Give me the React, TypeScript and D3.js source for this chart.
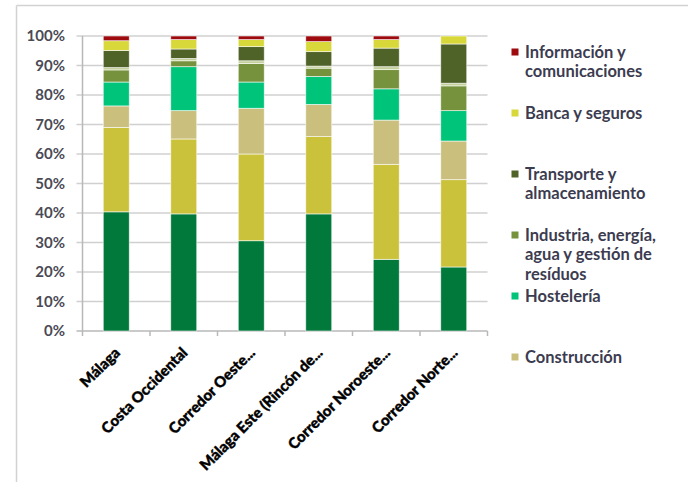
import React from "react";
import * as d3 from "d3";

const categories = [
  "Málaga",
  "Costa Occidental",
  "Corredor Oeste...",
  "Málaga Este (Rincón de...",
  "Corredor Noroeste...",
  "Corredor Norte...",
];

// series stacked from bottom to top
const seriesKeys = [
  "Serie A",
  "Serie B",
  "Construcción",
  "Hostelería",
  "Industria, energía, agua y gestión de resíduos",
  "Otros",
  "Transporte y almacenamiento",
  "Banca y seguros",
  "Información y comunicaciones",
];

const serieA = [40.4, 39.7, 30.6, 39.7, 24.3, 21.7];
const serieB = [28.6, 25.4, 29.4, 26.2, 32.2, 29.6];
const construccion = [7.3, 9.6, 15.5, 10.9, 15.0, 13.1];
const hosteleria = [8.1, 14.9, 8.9, 9.5, 10.6, 10.3];
const industria = [4.1, 2.0, 6.3, 2.8, 6.5, 8.4];
const otros = [0.8, 0.8, 0.9, 0.7, 1.0, 0.9];
const transporte = [5.8, 3.2, 4.8, 4.9, 6.3, 13.3];
const banca = [3.3, 3.2, 2.4, 3.4, 2.9, 2.7];
const informacion = [1.6, 1.2, 1.2, 1.9, 1.2, 0.0];

const seriesValues = [
  serieA,
  serieB,
  construccion,
  hosteleria,
  industria,
  otros,
  transporte,
  banca,
  informacion,
];

const colors = [
  "#00793b",
  "#cbc23c",
  "#cabf7d",
  "#00c47a",
  "#76923c",
  "#c4d09a",
  "#4f6228",
  "#d8d83a",
  "#9e0b0f",
];

const yTicks = [0, 0.1, 0.2, 0.3, 0.4, 0.5, 0.6, 0.7, 0.8, 0.9, 1];

// legend as shown (top to bottom)
const legendItems = [
  { key: "Información y comunicaciones", lines: ["Información y", "comunicaciones"] },
  { key: "Banca y seguros", lines: ["Banca y seguros"] },
  { key: "Transporte y almacenamiento", lines: ["Transporte y", "almacenamiento"] },
  { key: "Industria, energía, agua y gestión de resíduos", lines: ["Industria, energía,", "agua y gestión de", "resíduos"] },
  { key: "Hostelería", lines: ["Hostelería"] },
  { key: "Construcción", lines: ["Construcción"] },
];

const W = 688;
const H = 482;
const plot = { left: 82.5, right: 487.5, top: 36, bottom: 331 };
const FONT = "Lato, 'Open Sans', sans-serif";

export default function App() {
  const rows = categories.map((c, i) => {
    const r: any = { cat: c };
    seriesKeys.forEach((k, j) => (r[k] = seriesValues[j][i]));
    return r;
  });
  const stacked = d3.stack<any>().keys(seriesKeys).offset(d3.stackOffsetExpand)(rows);

  const x = d3
    .scaleBand<string>()
    .domain(categories)
    .range([plot.left, plot.right])
    .paddingInner(0.615)
    .paddingOuter(0.3075);
  const y = d3.scaleLinear().domain([0, 1]).range([plot.bottom, plot.top]);
  const step = x.step();
  const fmt = d3.format(".0%");
  const colorOf = (k: string) => colors[seriesKeys.indexOf(k)];

  return (
    <svg
      width={W}
      height={H}
      style={{ position: "absolute", left: 0, top: 0, background: "#fff" }}
      fontFamily={FONT}
    >
      {/* frame */}
      <line x1={16.5} y1={5.5} x2={W} y2={5.5} stroke="#d2d2d2" strokeWidth={1.5} />
      <line x1={16.5} y1={5.5} x2={16.5} y2={H} stroke="#d2d2d2" strokeWidth={1.5} />

      {/* gridlines + y ticks */}
      {yTicks.map((t) => (
        <g key={t}>
          <line
            x1={plot.left - 6}
            x2={plot.right}
            y1={y(t)}
            y2={y(t)}
            stroke={t === 0 ? "#b8b8b8" : "#d0d0d0"}
            strokeWidth={1.5}
          />
          <text
            x={65}
            y={y(t)}
            dy="0.36em"
            textAnchor="end"
            fontSize={15}
            fontWeight={700}
            fill="#4a4a55"
          >
            {fmt(t)}
          </text>
        </g>
      ))}
      {/* y axis line */}
      <line x1={plot.left} x2={plot.left} y1={plot.top} y2={plot.bottom} stroke="#b8b8b8" strokeWidth={1.5} />
      {/* x category ticks */}
      {d3.range(categories.length + 1).map((i) => (
        <line
          key={i}
          x1={plot.left + i * step}
          x2={plot.left + i * step}
          y1={plot.bottom}
          y2={plot.bottom + 5}
          stroke="#b8b8b8"
          strokeWidth={1.5}
        />
      ))}

      {/* bars */}
      {stacked.map((s) => (
        <g key={s.key} fill={colorOf(s.key)}>
          {s.map((d, i) =>
            d[1] - d[0] > 0 ? (
              <rect
                key={i}
                x={x(categories[i])!}
                width={x.bandwidth()}
                y={y(d[1])}
                height={y(d[0]) - y(d[1])}
                stroke="#ffffff"
                strokeOpacity={0.7}
                strokeWidth={0.8}
              />
            ) : null
          )}
        </g>
      ))}

      {/* x labels */}
      {categories.map((c) => (
        <text
          key={c}
          transform={`translate(${x(c)! + x.bandwidth() / 2 + 1},${plot.bottom + 19}) rotate(-45)`}
          textAnchor="end"
          dy="0.35em"
          fontSize={15}
          fontWeight={900}
          fill="#000"
          stroke="#000"
          strokeWidth={0.4}
        >
          {c}
        </text>
      ))}

      {/* legend */}
      {legendItems.map((it, i) => {
        const cy = 52 + i * 61;
        return (
          <g key={it.key}>
            <rect x={511.5} y={cy - 3.5} width={7} height={7} fill={colorOf(it.key)} />
            <text x={525} y={cy} fontSize={16.5} fontWeight={700} fill="#3c3c50">
              {it.lines.map((ln, j) => (
                <tspan key={j} x={525} y={cy + j * 19.4} dy="0.36em">
                  {ln}
                </tspan>
              ))}
            </text>
          </g>
        );
      })}
    </svg>
  );
}
